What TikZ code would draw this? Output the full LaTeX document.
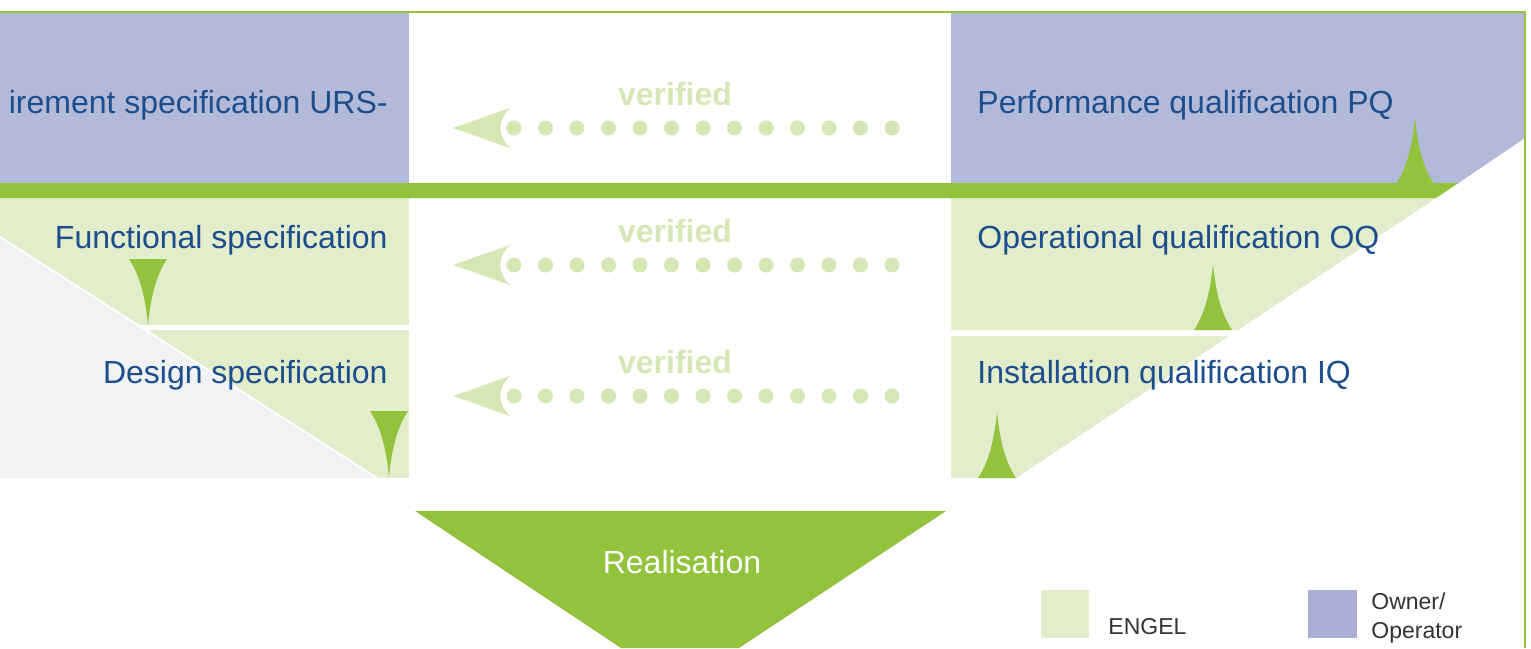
\documentclass[tikz,border=0pt]{standalone}
\usepackage{fontspec}
\setmainfont{Liberation Sans}
\definecolor{bluefill}{HTML}{B3BAD9}
\definecolor{legendblue}{HTML}{A9AFD6}
\definecolor{palegreen}{HTML}{E1EDCB}
\definecolor{arrowgreen}{HTML}{D5E7B5}
\definecolor{strong}{HTML}{93C23D}
\definecolor{greyfill}{HTML}{F1F2F4}
\definecolor{textblue}{HTML}{1C4E8D}
\definecolor{legendtext}{HTML}{333333}
\begin{document}
\begin{tikzpicture}[x=0.5pt,y=-0.5pt,
  lbl/.style={text=textblue,font=\fontsize{16}{19}\selectfont,inner sep=0pt},
  verif/.style={text=arrowgreen,font=\bfseries\fontsize{16}{19}\selectfont,inner sep=0pt,anchor=base},
  legtxt/.style={text=legendtext,font=\fontsize{11.5}{13}\selectfont,inner sep=0pt,anchor=base west},
  vdot/.style={fill=arrowgreen},
  spikeup/.pic={\fill[strong] (-19,0) .. controls (-9,-15) and (-3,-35) .. (0,-66)
                 .. controls (3,-35) and (9,-15) .. (19,0) -- cycle;},
  spikedown/.pic={\fill[strong] (-19,0) .. controls (-9,15) and (-3,35) .. (0,66)
                 .. controls (3,35) and (9,15) .. (19,0) -- cycle;},
]
\useasboundingbox (0,0) rectangle (1531,648);
\fill[white] (0,0) rectangle (1531,648);

% specification side (left)
\fill[bluefill] (0,13) rectangle (409,183);
\fill[palegreen] (0,198) rectangle (409,325);
\fill[palegreen] (0,330) rectangle (409,478);
\fill[greyfill] (0,237) -- (377,478) -- (0,478) -- cycle;
\draw[white, line width=1pt] (0,237) -- (377,478);

% qualification side (right)
\fill[bluefill] (951,13) -- (1525,13) -- (1525,138) -- (1458.5,183) -- (951,183) -- cycle;
\fill[palegreen] (951,198) -- (1436,198) -- (1238,330) -- (951,330) -- cycle;
\fill[palegreen] (951,336) -- (1229,336) -- (1016,478) -- (951,478) -- cycle;

% owner / supplier boundary band
\fill[strong] (0,183) -- (1458.5,183) -- (1436,198) -- (0,198) -- cycle;

% tapered markers
\pic at (148,259) {spikedown};
\pic at (389,411) {spikedown};
\pic at (1415,184) {spikeup};
\pic at (1213,330) {spikeup};
\pic at (997,478) {spikeup};

% outer frame
\draw[strong, line width=1.25pt] (0,12) -- (1525,12) -- (1525,648);

% phase labels
\node[lbl, anchor=base east] (urs) at (388,113) {irement specification URS-};
\node[lbl, anchor=base east] (func) at (388,248) {Functional specification};
\node[lbl, anchor=base east] (design) at (388,383) {Design specification};
\node[lbl, anchor=base west] (pq) at (977,113) {Performance qualification PQ};
\node[lbl, anchor=base west] (oq) at (977,248) {Operational qualification OQ};
\node[lbl, anchor=base west] (iq) at (977,383) {Installation qualification IQ};

% verification arrows
\foreach \row/\yy in {1/128, 2/265, 3/396} {
  \coordinate (vtip\row) at (453,\yy);
  \coordinate (vsrc\row) at (892,\yy);
  \node[verif] (verified\row) at (675,{\yy-23}) {verified};
  \foreach \k in {0,...,12}
    \fill[vdot] ({514+31.5*\k},\yy) circle[radius=7.5];
  \fill[arrowgreen] (vtip\row) -- (510,{\yy-20})
    .. controls (497,{\yy-7}) and (497,{\yy+7}) .. (510,{\yy+20}) -- cycle;
}

% realisation
\fill[strong] (415,511) -- (946,511) -- (739,648) -- (621,648) -- cycle;
\node[text=white, font=\fontsize{16}{19}\selectfont, inner sep=0pt, anchor=base]
  (realis) at (682,573) {Realisation};

% legend
\fill[palegreen] (1041,590) rectangle (1089,638);
\node[legtxt] (engel) at (1108,634) {ENGEL};
\fill[legendblue] (1308,590) rectangle (1357,638);
\node[legtxt] (owner) at (1371,609) {Owner/};
\node[legtxt] (operator) at (1371,638) {Operator};
\end{tikzpicture}
\end{document}
